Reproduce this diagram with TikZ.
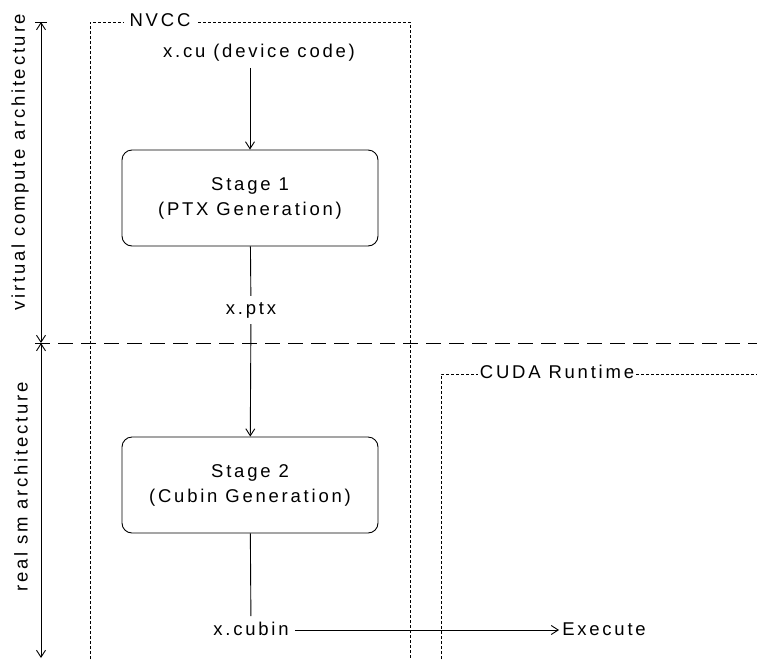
\documentclass[tikz,border=0pt]{standalone}
\usepackage{fontspec}
\setmainfont{Liberation Sans}[LetterSpace=15]
\usetikzlibrary{arrows.meta,positioning}

\begin{document}
\begin{tikzpicture}[x=1pt, y=-1pt,
  every node/.style={font=\fontsize{18.5}{25}\selectfont},
  label/.style={inner sep=6pt},
  stagebox/.style={draw, rounded corners=10pt, line width=0.9pt,
    minimum width=256pt, minimum height=96pt, align=center},
  arr/.style={-{Straight Barb[length=7pt, width=9pt]}, line width=0.9pt},
  dim/.style={{Straight Barb[length=7pt, width=9pt]}-{Straight Barb[length=7pt, width=9pt]}, line width=0.9pt},
  boxline/.style={line width=0.8pt, dash pattern=on 3pt off 2pt},
  title/.style={fill=white, inner sep=2pt}]
\useasboundingbox (0,0) rectangle (757,659);
% NVCC frame
\draw[boxline] (90,659) -- (90,22) -- (410,22) -- (410,659);
\node[title, inner xsep=6pt] (nvcc) at (160,20) {NVCC};
% CUDA Runtime frame
\draw[boxline] (441,659) -- (441,374) -- (757,374);
\node[title] (cuda) at (557,372) {CUDA Runtime};
% Split between virtual and real architecture
\draw[line width=0.9pt, dash pattern=on 15pt off 8pt] (35,343) -- (757,343);
\coordinate (dimtop) at (41,22);
\coordinate (dimmid) at (41,343);
\coordinate (dimbot) at (41,658);
\draw[line width=0.9pt] (35,22) -- (47,22);
\draw[dim] (dimtop) -- (dimmid);
\draw[dim] (dimmid) -- (dimbot);
\node[rotate=90] (virt) at (20,162) {virtual compute architecture};
\node[rotate=90] (real) at (21,487) {real sm architecture};
% Compilation flow
\node[label] (xcu) at (259,53) {x.cu (device code)};
\node[stagebox] (stage1) at (250,198) {Stage 1\\ (PTX Generation)};
\node[label] (xptx) at (251,310) {x.ptx};
\node[stagebox] (stage2) at (250,485) {Stage 2\\ (Cubin Generation)};
\node[label] (xcubin) at (251,629) {x.cubin};
\node[label, inner xsep=3pt] (exec) at (604,629) {Execute};
\draw[arr] (stage1.north |- xcu.south) -- (stage1.north);
\draw[line width=0.9pt] (stage1) -- (xptx);
\draw[arr] (xptx) -- (stage2);
\draw[line width=0.9pt] (stage2) -- (xcubin);
\draw[arr] (xcubin.east |- 0,630) -- (exec.west |- 0,630);
\end{tikzpicture}
\end{document}
